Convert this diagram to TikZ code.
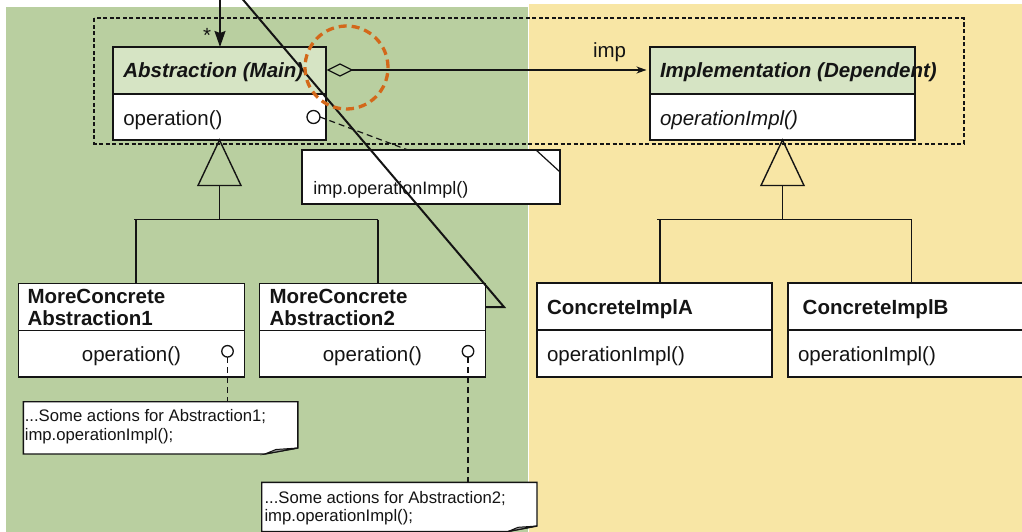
\documentclass[tikz,border=0pt]{standalone}
\usepackage{fontspec}
\setmainfont{Liberation Sans}
\usetikzlibrary{shapes.geometric,arrows.meta,calc}

\definecolor{bggreen}{RGB}{185,207,160}
\definecolor{bgyellow}{RGB}{248,230,165}
\definecolor{hdrgreen}{RGB}{214,228,196}
\definecolor{ringorange}{RGB}{211,104,26}
\definecolor{ink}{RGB}{20,20,20}
\definecolor{foldgray}{RGB}{150,150,150}

\tikzset{
  box/.style={draw=ink, line width=1.4pt, fill=white, anchor=north west,
              inner sep=0pt, outer sep=0pt},
  hdr/.style={box, fill=hdrgreen},
  txtbase/.style={inner sep=0pt, outer sep=0pt, text=ink, anchor=base west},
  clsr/.style={txtbase, font={\fontsize{20.5pt}{24.6pt}\selectfont}},
  clsb/.style={txtbase, font={\fontsize{20.5pt}{24.6pt}\selectfont\bfseries}},
  clsi/.style={txtbase, font={\fontsize{20.5pt}{24.6pt}\selectfont\itshape}},
  clsbi/.style={txtbase, font={\fontsize{20.5pt}{24.6pt}\selectfont\bfseries\itshape}},
  notebig/.style={txtbase, font={\fontsize{18pt}{21.6pt}\selectfont}},
  notesmall/.style={txtbase, font={\fontsize{16.7pt}{20pt}\selectfont}},
  notebox/.style={draw=ink, line width=1.4pt, fill=white, anchor=north west,
                  inner sep=0pt, outer sep=0pt},
  notearea/.style={draw=none, anchor=north west, inner sep=0pt, outer sep=0pt},
  noteline/.style={draw=ink, line width=1.4pt, fill=white},
  foldfill/.style={draw=ink, line width=1pt, fill=foldgray},
  lolli/.style={circle, draw=ink, line width=1.3pt, fill=white, inner sep=0pt, outer sep=0pt},
  dashlink/.style={draw=ink, line width=1.2pt, dash pattern=on 6pt off 4pt},
  gen/.style={draw=ink, line width=1.4pt},
  dotbox/.style={draw=ink, line width=2pt, dash pattern=on 4pt off 2.5pt},
  assoc/.style={draw=ink, line width=1.3pt,
                -{Stealth[length=10pt,width=7pt,inset=3pt]}, shorten >=3.5pt},
  toparr/.style={draw=ink, line width=1.6pt,
                 -{Stealth[length=16pt,width=11pt,inset=2pt]}},
  diagline/.style={draw=ink, line width=2pt},
  ring/.style={circle, draw=ringorange, line width=3.3pt,
               dash pattern=on 8pt off 5pt, inner sep=0pt, minimum size=83pt},
  aggdiamond/.style={diamond, draw=ink, line width=1.3pt, fill=none,
                     inner sep=0pt, outer sep=0pt, minimum width=24pt, minimum height=12pt}
}

\begin{document}
\begin{tikzpicture}[x=1pt,y=-1pt]
\clip (0,0) rectangle (1022,532);
\fill[white] (0,0) rectangle (1022,532);

% two colour zones
\fill[bggreen] (6,7) rectangle (527.5,540);
\fill[bgyellow] (529,4) rectangle (1030,540);

% dotted frame round the two top classes
\draw[dotbox] (94,18.5) rectangle (963.5,143.5);

% ---------- Abstraction ----------
\node[hdr, minimum width=213pt, minimum height=47pt] (absH) at (113,47) {};
\node[box, minimum width=213pt, minimum height=46pt] (absB) at (113,94) {};
\node[clsbi] (absHT) at (123.3,77.3) {Abstraction (Main)};
\node[clsr] (absBT) at (123.3,125) {operation()};
\node[lolli, minimum size=13pt] (absL) at (313.5,117) {};

% ---------- Implementation ----------
\node[hdr, minimum width=265pt, minimum height=47pt] (impH) at (650,47) {};
\node[box, minimum width=265pt, minimum height=46pt] (impB) at (650,94) {};
\node[clsbi] (impHT) at (660,77.3) {Implementation (Dependent)};
\node[clsi] (impBT) at (660,125) {operationImpl()};

% ---------- refined abstractions ----------
\node[box, minimum width=226pt, minimum height=47.4pt] (mcaAH) at (18.5,283.3) {};
\node[box, minimum width=226pt, minimum height=46.3pt] (mcaAB) at (18.5,330.7) {};
\node[clsb] (mcaAT1) at (27.5,303.3) {MoreConcrete};
\node[clsb] (mcaAT2) at (27.5,325.7) {Abstraction1};
\node[clsr, anchor=base] (mcaABT) at (mcaAB.center |- 0,361.7) {operation()};
\node[lolli, minimum size=11.5pt] (mcaAL) at (227.5,351.3) {};

\node[box, minimum width=225.8pt, minimum height=47.4pt] (mcaBH) at (259.5,283.3) {};
\node[box, minimum width=225.8pt, minimum height=46.3pt] (mcaBB) at (259.5,330.7) {};
\node[clsb] (mcaBT1) at (269.6,303.3) {MoreConcrete};
\node[clsb] (mcaBT2) at (269.6,325.7) {Abstraction2};
\node[clsr, anchor=base] (mcaBBT) at (mcaBB.center |- 0,361.7) {operation()};
\node[lolli, minimum size=11.5pt] (mcaBL) at (468,351.3) {};

% ---------- concrete implementations ----------
\node[box, minimum width=235pt, minimum height=47pt] (ciaH) at (537,283) {};
\node[box, minimum width=235pt, minimum height=47pt] (ciaB) at (537,330) {};
\node[clsb] (ciaHT) at (547,314.3) {ConcreteImplA};
\node[clsr] (ciaBT) at (547,361) {operationImpl()};

\node[box, minimum width=240pt, minimum height=47pt] (cibH) at (788,283) {};
\node[box, minimum width=240pt, minimum height=47pt] (cibB) at (788,330) {};
\node[clsb] (cibHT) at (802.7,314.3) {ConcreteImplB};
\node[clsr] (cibBT) at (798,361) {operationImpl()};

% ---------- notes ----------
\node[notebox, minimum width=258pt, minimum height=54pt] (noteM) at (302,150) {};
\draw[draw=ink, line width=1.2pt] ($(noteM.north east)+(-24,0)$) -- ($(noteM.north east)+(0,22)$);
\node[notebig] (noteMT) at (313.3,194) {imp.operationImpl()};

\node[notearea, minimum width=274.5pt, minimum height=52.3pt] (noteA) at (23.4,401.7) {};
\draw[noteline] (noteA.north west) -- (noteA.north east) -- ($(noteA.south east)+(0,-6)$)
  -- ($(noteA.south east)+(-33,0)$) -- (noteA.south west) -- cycle;
\draw[foldfill] ($(noteA.south east)+(-33,0)$) -- ($(noteA.south east)+(-22,-4.5)$)
  -- ($(noteA.south east)+(0,-6)$) -- cycle;
\node[notesmall] (noteAT1) at (24.8,421.5) {...Some actions for Abstraction1;};
\node[notesmall] (noteAT2) at (24.8,440) {imp.operationImpl();};

\node[notearea, minimum width=275.3pt, minimum height=49.2pt] (noteB) at (261.7,482.3) {};
\draw[noteline] (noteB.north west) -- (noteB.north east) -- ($(noteB.south east)+(0,-5.5)$)
  -- ($(noteB.south east)+(-29,0)$) -- (noteB.south west) -- cycle;
\draw[foldfill] ($(noteB.south east)+(-29,0)$) -- ($(noteB.south east)+(-19,-4.2)$)
  -- ($(noteB.south east)+(0,-5.5)$) -- cycle;
\node[notesmall] (noteBT1) at (264.5,503) {...Some actions for Abstraction2;};
\node[notesmall] (noteBT2) at (264.5,521.5) {imp.operationImpl();};

% note anchors
\draw[dashlink] (absL.east) -- ($(noteM.north west)+(106,0)$);
\draw[dashlink] (mcaAL.south) -- (mcaAL.south |- noteA.north);
\draw[dashlink] (mcaBL.south) -- (mcaBL.south |- noteB.north);

% ---------- generalisation: abstraction side ----------
\coordinate (absTri) at ($(absB.south)+(0,45.5)$);
\coordinate (absJ) at ($(absB.south)+(0,79.5)$);
\draw[gen] (absB.south) -- ($(absTri)+(-21.5,0)$) -- ($(absTri)+(21.5,0)$) -- cycle;
\draw[gen] (absTri) -- (absJ);
\draw[gen] (134,0 |- absJ) -- (378,0 |- absJ);
\draw[gen] (136,0 |- absJ) -- (136,0 |- mcaAH.north);
\draw[gen] (378,0 |- absJ) -- (378,0 |- mcaBH.north);

% ---------- generalisation: implementation side ----------
\coordinate (impTri) at ($(impB.south)+(0,45.5)$);
\coordinate (impJ) at ($(impB.south)+(0,79.5)$);
\draw[gen] (impB.south) -- ($(impTri)+(-21.5,0)$) -- ($(impTri)+(21.5,0)$) -- cycle;
\draw[gen] (impTri) -- (impJ);
\draw[gen] (657,0 |- impJ) -- (911.5,0 |- impJ);
\draw[gen] (660,0 |- impJ) -- (660,0 |- ciaH.north);
\draw[gen] (911.5,0 |- impJ) -- (911.5,0 |- cibH.north);

% ---------- aggregation abstraction -> implementation ----------
\node[aggdiamond] (agg) at (340,70) {};
\draw[assoc] (agg.east) -- (agg.east -| impH.west);
\node[clsr] (impLabel) at (593,57.7) {imp};

% incoming client reference
\coordinate (client) at (220,-6);
\draw[toparr] (client) -- (client |- absH.north);
\node[clsr, anchor=base] (mult) at (207,43) {*};

% long slanted stroke with its foot
\coordinate (slantTop) at (234.8,-10);
\coordinate (slantTip) at (504,307);
\coordinate (slantFoot) at (485,307);
\draw[diagline] (slantTop) -- (slantTip) -- (slantFoot);

% highlight ring round the aggregation end
\node[ring] (hl) at (346.5,67.5) {};
\end{tikzpicture}
\end{document}
